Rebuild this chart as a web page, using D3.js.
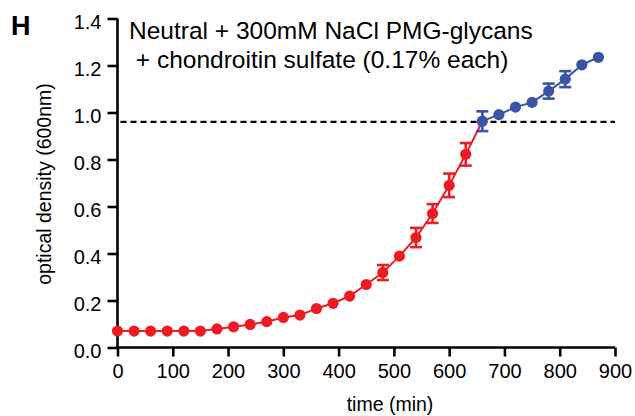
<!DOCTYPE html>
<html>
<head>
<meta charset="utf-8">
<script src="https://cdn.jsdelivr.net/npm/d3@7"></script>
<style>
  html, body { margin: 0; padding: 0; background: #fff; }
  svg { display: block; font-family: Arial, "Liberation Sans", Helvetica, sans-serif; }
</style>
</head>
<body>
<svg id="chart" width="635" height="416"></svg>
<script>
// Growth curve: optical density over time, sampled every 30 min
const redTimes = [0, 30, 60, 90, 120, 150, 180, 210, 240, 270, 300, 330, 360, 390, 420, 450, 480, 510, 540, 570, 600, 630];
const redOD    = [0.070, 0.070, 0.070, 0.070, 0.070, 0.070, 0.079, 0.088, 0.098, 0.110, 0.128, 0.138, 0.166, 0.188, 0.219, 0.268, 0.319, 0.389, 0.468, 0.570, 0.690, 0.822];
const redErr   = [0, 0, 0, 0, 0, 0, 0, 0, 0, 0, 0, 0, 0, 0, 0, 0, 0.032, 0, 0.041, 0.040, 0.050, 0.048];

const blueTimes = [660, 690, 720, 750, 780, 810, 840, 870];
const blueOD    = [0.963, 0.991, 1.023, 1.043, 1.091, 1.142, 1.203, 1.235];
const blueErr   = [0.042, 0, 0, 0, 0.032, 0.034, 0, 0];

const thresholdOD = 0.96;
const xTicks = [0, 100, 200, 300, 400, 500, 600, 700, 800, 900];
const yTicks = [0.0, 0.2, 0.4, 0.6, 0.8, 1.0, 1.2, 1.4];

const titleLines = ["Neutral + 300mM NaCl PMG-glycans", " + chondroitin sulfate (0.17% each)"];
const panelLabel = "H";
const xLabel = "time (min)";
const yLabel = "optical density (600nm)";

const RED = "#ed1c24";
const BLUE = "#3a53a4";

const svg = d3.select("#chart");
const x = d3.scaleLinear().domain([0, 900]).range([117.5, 615]);
const y = d3.scaleLinear().domain([0, 1.4]).range([347.5, 18.5]);

// Axes
const xAxis = svg.append("g")
  .attr("transform", `translate(0,${y(0)})`)
  .call(d3.axisBottom(x).tickValues(xTicks).tickSize(9).tickSizeOuter(0).tickPadding(7));
const yAxis = svg.append("g")
  .attr("transform", `translate(${x(0)},0)`)
  .call(d3.axisLeft(y).tickValues(yTicks).tickSize(10).tickSizeOuter(0).tickPadding(6)
    .tickFormat(d3.format(".1f")));

[xAxis, yAxis].forEach(g => {
  g.select(".domain").attr("stroke", "#000").attr("stroke-width", 2.6);
  g.selectAll(".tick line").attr("stroke", "#000").attr("stroke-width", 2.6);
  g.selectAll(".tick text").attr("fill", "#000").style("font-size", "20px")
    .style("font-family", "Arial, 'Liberation Sans', sans-serif");
});
yAxis.selectAll(".tick text").attr("dy", "0.52em");
// extend axis lines through the origin corner
xAxis.select(".domain").attr("d", `M${x(0) - 1.3},0H${x(900)}`);
yAxis.select(".domain").attr("d", `M0,${y(0) + 1.3}V${y(1.4)}`);

// Threshold line
svg.append("line")
  .attr("x1", x(0) + 3).attr("x2", x(900))
  .attr("y1", y(thresholdOD)).attr("y2", y(thresholdOD))
  .attr("stroke", "#000").attr("stroke-width", 2.2)
  .attr("stroke-dasharray", "6,4");

function drawSeries(times, vals, errs, color, lineTimes, lineVals) {
  const line = d3.line().x((d, i) => x(lineTimes[i])).y(d => y(d));
  svg.append("path").datum(lineVals)
    .attr("d", line).attr("fill", "none")
    .attr("stroke", color).attr("stroke-width", 2);

  const data = times.map((t, i) => ({ t, v: vals[i], e: errs[i] }));
  const eb = svg.append("g").attr("stroke", color).attr("stroke-width", 2.6).attr("fill", "none");
  data.filter(d => d.e > 0).forEach(d => {
    const cx = x(d.t), y1 = y(d.v + d.e), y2 = y(d.v - d.e);
    eb.append("line").attr("x1", cx).attr("x2", cx).attr("y1", y1).attr("y2", y2);
    eb.append("line").attr("x1", cx - 6).attr("x2", cx + 6).attr("y1", y1).attr("y2", y1);
    eb.append("line").attr("x1", cx - 6).attr("x2", cx + 6).attr("y1", y2).attr("y2", y2);
  });

  svg.append("g").selectAll("circle").data(data).join("circle")
    .attr("cx", d => x(d.t)).attr("cy", d => y(d.v)).attr("r", 5.6)
    .attr("fill", color);
}

// Red phase line runs into the first blue point
drawSeries(redTimes, redOD, redErr, RED,
  redTimes.concat([blueTimes[0]]), redOD.concat([blueOD[0]]));
drawSeries(blueTimes, blueOD, blueErr, BLUE, blueTimes, blueOD);

// Title
const title = svg.append("text").attr("fill", "#000").style("font-size", "24.5px");
titleLines.forEach((s, i) => {
  title.append("tspan").attr("x", 129).attr("y", 39 + i * 29)
    .attr("xml:space", "preserve").style("white-space", "pre").text(s);
});

// Panel letter
svg.append("text").attr("x", 11).attr("y", 35)
  .style("font-size", "27px").style("font-weight", "bold").attr("fill", "#000")
  .text(panelLabel);

// Axis titles
svg.append("text").attr("x", 390).attr("y", 411)
  .attr("text-anchor", "middle").style("font-size", "19.5px").attr("fill", "#000")
  .text(xLabel);
svg.append("text")
  .attr("transform", `translate(51,184) rotate(-90)`)
  .attr("text-anchor", "middle").style("font-size", "19.5px").attr("fill", "#000")
  .text(yLabel);
</script>
</body>
</html>
